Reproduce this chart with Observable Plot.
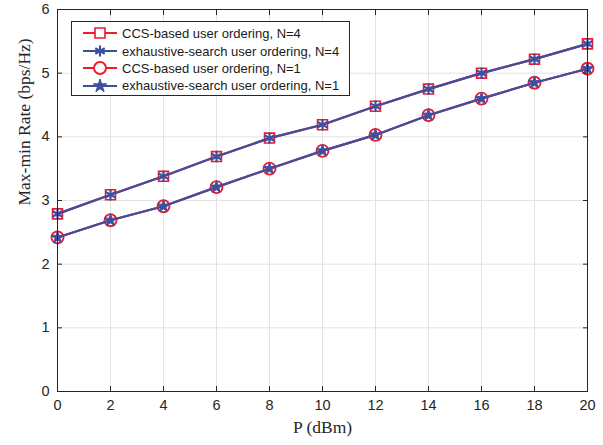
<!DOCTYPE html>
<html><head><meta charset="utf-8">
<script src="https://cdn.jsdelivr.net/npm/d3@7"></script>
<script src="https://cdn.jsdelivr.net/npm/@observablehq/plot@0.6"></script>
<style>
body{margin:0;background:#fff;}
#wrap{position:relative;width:603px;height:445px;overflow:hidden;}
#legend{position:absolute;left:71px;top:21px;width:279px;height:75px;border:1px solid #262626;background:#fff;box-sizing:border-box;}
#legend .row{position:absolute;left:0;height:18px;display:flex;align-items:center;font-family:"Liberation Sans",Arial,sans-serif;font-size:13px;color:#1a1a1a;white-space:nowrap;}
#legend svg{display:block;margin-left:11px;margin-right:5px;}
</style></head><body><div id="wrap"></div>
<script>
// ---- data ----
const powerDbm = [0, 2, 4, 6, 8, 10, 12, 14, 16, 18, 20];
const ccsN4 = [2.79, 3.09, 3.38, 3.69, 3.98, 4.19, 4.48, 4.75, 5.00, 5.22, 5.46];
const exhN4 = [2.79, 3.09, 3.38, 3.69, 3.98, 4.19, 4.48, 4.75, 5.00, 5.22, 5.46];
const ccsN1 = [2.42, 2.69, 2.91, 3.21, 3.50, 3.78, 4.03, 4.34, 4.60, 4.85, 5.07];
const exhN1 = [2.42, 2.69, 2.91, 3.21, 3.50, 3.78, 4.03, 4.34, 4.60, 4.85, 5.07];
const seriesNames = [
  "CCS-based user ordering, N=4",
  "exhaustive-search user ordering, N=4",
  "CCS-based user ordering, N=1",
  "exhaustive-search user ordering, N=1"
];
const xTicks = [0, 2, 4, 6, 8, 10, 12, 14, 16, 18, 20];
const yTicks = [0, 1, 2, 3, 4, 5, 6];
const xLabel = "P (dBm)";
const yLabel = "Max-min Rate (bps/Hz)";

const RED = "#ee1b2d", BLUE = "#3e4f9f";
const series = [
  {name: seriesNames[0], values: ccsN4, color: RED, symbol: "square", r: 5.6, lr: 5.6, fill: "none", sw: 1.6},
  {name: seriesNames[1], values: exhN4, color: BLUE, symbol: "asterisk", r: 5.4, lr: 5.2, fill: "none", sw: 2.2},
  {name: seriesNames[2], values: ccsN1, color: RED, symbol: "circle", r: 6, lr: 6, fill: "none", sw: 1.9},
  {name: seriesNames[3], values: exhN1, color: BLUE, symbol: "star", r: 3.9, lr: 4.2, fill: BLUE, sw: 1}
];

const marks = [
  Plot.gridX(xTicks, {stroke: "#e3e3e3", strokeOpacity: 1}),
  Plot.gridY(yTicks, {stroke: "#e3e3e3", strokeOpacity: 1})
];
for (const s of series) {
  const rows = powerDbm.map((p, i) => ({p, v: s.values[i]}));
  marks.push(Plot.line(rows, {x: "p", y: "v", stroke: s.color, strokeWidth: 2.2}));
  marks.push(Plot.dot(rows, {x: "p", y: "v", symbol: () => s.symbol, r: s.r, stroke: s.color, fill: s.fill, strokeWidth: s.sw}));
}
const axStyle = {stroke: "#262626", color: "#262626"};
const font = "Liberation Sans, Arial, sans-serif";
marks.push(
  Plot.frame({stroke: "#262626", strokeWidth: 1}),
  Plot.axisX(xTicks, {anchor: "bottom", tickSize: -5, tickPadding: 13, label: null, tickFormat: d => String(d), fontSize: 14.5, fontFamily: font, ...axStyle}),
  Plot.axisX(xTicks, {anchor: "top", tickSize: -5, text: null, label: null, ...axStyle}),
  Plot.axisY(yTicks, {anchor: "left", tickSize: -5, tickPadding: 13, label: null, tickFormat: d => String(d), fontSize: 14.5, fontFamily: font, ...axStyle}),
  Plot.axisY(yTicks, {anchor: "right", tickSize: -5, text: null, label: null, ...axStyle}),
  Plot.text([xLabel], {frameAnchor: "bottom", dy: 41, text: d => d, fontSize: 17.5, fontFamily: "Liberation Serif, Times New Roman, serif", fill: "#262626"}),
  Plot.text([yLabel], {frameAnchor: "left", dx: -33, dy: 5, rotate: -90, text: d => d, fontSize: 17.5, fontFamily: "Liberation Serif, Times New Roman, serif", fill: "#262626"})
);

const chart = Plot.plot({
  width: 603, height: 445,
  marginLeft: 57, marginRight: 16, marginTop: 9, marginBottom: 54,
  x: {domain: [0, 20]},
  y: {domain: [0, 6]},
  style: {background: "#fff", overflow: "visible"},
  marks
});
const wrap = document.getElementById("wrap");
wrap.appendChild(chart);

// ---- legend ----
const legend = document.createElement("div");
legend.id = "legend";
wrap.appendChild(legend);
const symMap = {square: d3.symbolSquare, asterisk: d3.symbolAsterisk, circle: d3.symbolCircle, star: d3.symbolStar};
const rowTops = [2, 20, 37, 54.5];
series.forEach((s, i) => {
  const row = document.createElement("div");
  row.className = "row";
  row.style.top = rowTops[i] + "px";
  const svg = d3.create("svg").attr("width", 34).attr("height", 18);
  svg.append("line").attr("x1", 0).attr("x2", 34).attr("y1", 9).attr("y2", 9).attr("stroke", s.color).attr("stroke-width", 2.2);
  svg.append("path").attr("transform", "translate(17,9)")
    .attr("d", d3.symbol(symMap[s.symbol], Math.PI * s.lr * s.lr)())
    .attr("fill", s.fill === "none" ? "#fff" : s.fill).attr("stroke", s.color).attr("stroke-width", s.sw);
  row.appendChild(svg.node());
  const t = document.createElement("span");
  t.textContent = s.name;
  row.appendChild(t);
  legend.appendChild(row);
});
</script></body></html>
